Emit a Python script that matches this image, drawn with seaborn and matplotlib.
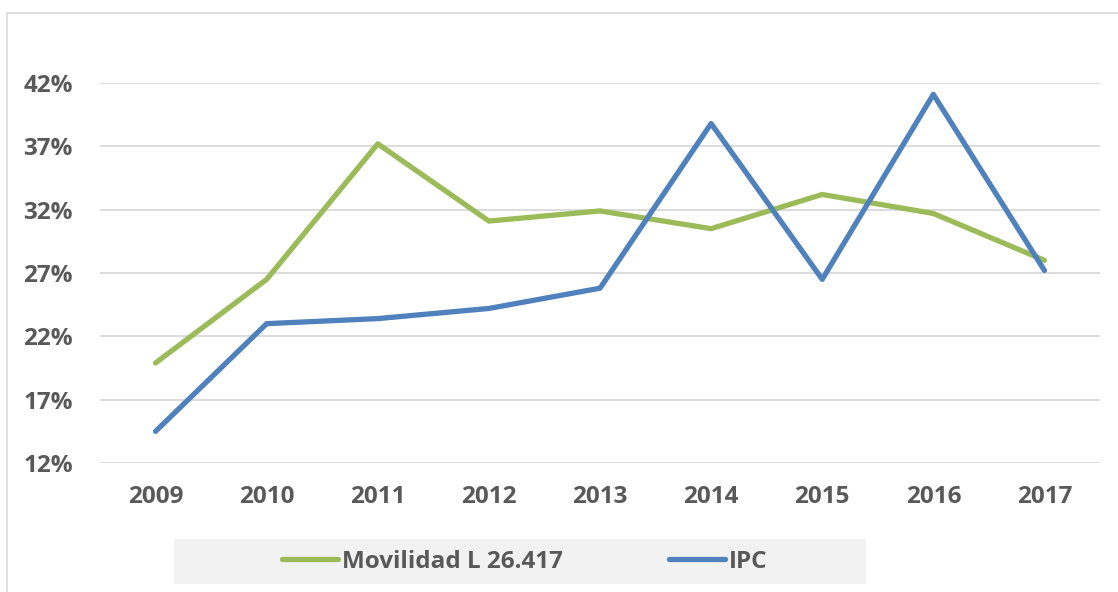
import pandas as pd
import seaborn as sns
import matplotlib.pyplot as plt
from matplotlib.patches import Rectangle
from matplotlib.lines import Line2D

years = ['2009', '2010', '2011', '2012', '2013', '2014', '2015', '2016', '2017']
movilidad = [19.9, 26.5, 37.2, 31.1, 31.9, 30.5, 33.2, 31.7, 28.0]
ipc = [14.5, 23.0, 23.4, 24.2, 25.8, 38.8, 26.5, 41.1, 27.2]
series_names = ['Movilidad L 26.417', 'IPC']
series_colors = ['#9BBB59', '#4F81BD']
y_ticks = [12, 17, 22, 27, 32, 37, 42]

df = pd.DataFrame({
    'year': years * 2,
    'value': movilidad + ipc,
    'serie': [series_names[0]] * len(years) + [series_names[1]] * len(years),
})

sns.set_style('white')
plt.rcParams['font.family'] = ['Open Sans', 'DejaVu Sans']
text_color = '#595959'
fsize = 17.5

fig = plt.figure(figsize=(11.18, 5.92), dpi=100)
ax = fig.add_axes([100 / 1118, (592 - 463) / 592, 1000 / 1118, 380 / 592])

sns.lineplot(data=df, x='year', y='value', hue='serie', palette=series_colors,
             linewidth=3.8, ax=ax, legend=False, solid_capstyle='round')

ax.set_xlim(-0.5, len(years) - 0.5)
ax.set_ylim(12, 42)
ax.set_yticks(y_ticks)
ax.set_yticklabels([f'{t}%' for t in y_ticks])
ax.yaxis.grid(True, color='#d9d9d9', linewidth=1.3)
ax.set_axisbelow(True)
for s in ax.spines.values():
    s.set_visible(False)
ax.set_xlabel('')
ax.set_ylabel('')
ax.tick_params(axis='both', length=0, labelsize=fsize, labelcolor=text_color)
ax.tick_params(axis='y', pad=19.5)
ax.tick_params(axis='x', pad=16)
for lab in ax.get_xticklabels() + ax.get_yticklabels():
    lab.set_fontweight('bold')

# outer chart border
fig.add_artist(Line2D([7 / 1118, 7 / 1118], [0, 1 - 13 / 592], color='#d9d9d9', linewidth=1.2))
fig.add_artist(Line2D([7 / 1118, 1], [1 - 13 / 592, 1 - 13 / 592], color='#d9d9d9', linewidth=1.2))

# legend box
fig.add_artist(Rectangle((174 / 1118, (592 - 584) / 592), 692 / 1118, 45 / 592,
                         facecolor='#f2f2f2', edgecolor='none'))
handles = [Line2D([], [], color=c, linewidth=3.8, solid_capstyle='round') for c in series_colors]
leg = fig.legend(handles, series_names, loc='center left',
                 bbox_to_anchor=(282 / 1118, (592 - 562) / 592), ncol=2, frameon=False,
                 borderaxespad=0, borderpad=0,
                 handlelength=2.3, handletextpad=0.15, columnspacing=4.4,
                 prop={'size': fsize, 'weight': 'bold'})
for t in leg.get_texts():
    t.set_color(text_color)

fig.savefig('out.png', dpi=100)
